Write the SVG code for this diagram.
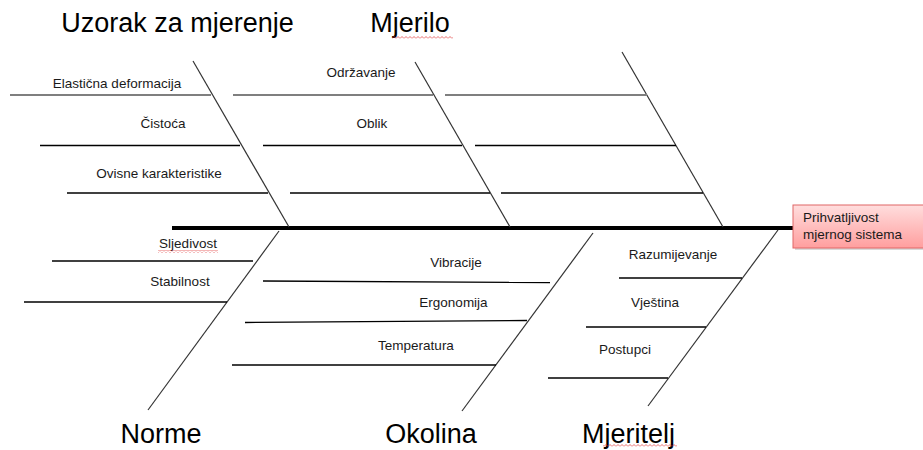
<svg xmlns="http://www.w3.org/2000/svg" width="923" height="450" viewBox="0 0 923 450">
<style>
  .title { font-family: "Liberation Sans", Arial, sans-serif; font-size: 27px; fill: #000; text-anchor: middle; }
  .lbl { font-family: "Liberation Sans", Arial, sans-serif; font-size: 13.5px; fill: #1a1a1a; text-anchor: middle; }
  .box { font-family: "Liberation Sans", Arial, sans-serif; font-size: 13.5px; fill: #1a1a1a; }
  .diag { stroke: #333; stroke-width: 1.2; fill: none; }
  .rib { stroke: #000; stroke-width: 1.3; fill: none; }
  .ribg { stroke: #7f7f7f; stroke-width: 1.8; fill: none; }
  .spine { stroke: #000; stroke-width: 4; fill: none; }
</style>
<defs>
  <linearGradient id="pink" x1="0" y1="0" x2="0" y2="1">
    <stop offset="0" stop-color="#ffdede"/>
    <stop offset="1" stop-color="#ff9e9e"/>
  </linearGradient>
  <pattern id="squig" width="4" height="3" patternUnits="userSpaceOnUse">
    <path d="M0 2.5 L2 0.5 L4 2.5" stroke="#e03030" stroke-width="0.7" fill="none"/>
  </pattern>
</defs>
<rect width="923" height="450" fill="#fff"/>

<g id="connectors">
  <line class="spine" x1="172" y1="228" x2="794" y2="228"/>
  <!-- upper bones -->
  <line class="diag" x1="193" y1="61" x2="289" y2="227"/>
  <line class="diag" x1="415" y1="62" x2="510" y2="227"/>
  <line class="diag" x1="622" y1="52" x2="723" y2="227"/>
  <!-- upper ribs -->
  <line class="ribg" x1="10" y1="95" x2="211" y2="95"/>
  <line class="ribg" x1="233" y1="95" x2="433" y2="95"/>
  <line class="ribg" x1="445" y1="95" x2="647" y2="95"/>
  <line class="rib" x1="40" y1="145.5" x2="240" y2="145.5"/>
  <line class="rib" x1="263" y1="145.5" x2="462" y2="145.5"/>
  <line class="rib" x1="475" y1="145.5" x2="676" y2="145.5"/>
  <line class="rib" x1="67" y1="193" x2="268" y2="193"/>
  <line class="rib" x1="290" y1="193" x2="490" y2="193"/>
  <line class="rib" x1="501" y1="193" x2="703" y2="193"/>
  <!-- lower bones -->
  <line class="diag" x1="279" y1="231" x2="148" y2="410"/>
  <line class="diag" x1="593" y1="233" x2="462" y2="411"/>
  <line class="diag" x1="778" y1="230" x2="648" y2="406"/>
  <!-- lower ribs -->
  <line class="rib" x1="52" y1="261" x2="253" y2="261"/>
  <line class="rib" x1="24" y1="302" x2="227" y2="302"/>
  <line class="rib" x1="263" y1="281" x2="550" y2="282.5"/>
  <line class="rib" x1="245" y1="322.5" x2="527" y2="320.5"/>
  <line class="rib" x1="232" y1="365" x2="496" y2="365"/>
  <line class="rib" x1="619" y1="278" x2="742" y2="278"/>
  <line class="rib" x1="586" y1="327" x2="706" y2="327"/>
  <line class="rib" x1="548" y1="378" x2="668" y2="378"/>
</g>

<g id="node-uzorak">
  <text class="title" x="177.5" y="32">Uzorak za mjerenje</text>
  <text class="lbl" x="117" y="88">Elastična deformacija</text>
  <text class="lbl" x="163" y="128">Čistoća</text>
  <text class="lbl" x="159" y="178">Ovisne karakteristike</text>
</g>

<g id="node-mjerilo">
  <text class="title" x="410" y="32">Mjerilo</text>
  <rect x="392" y="36" width="61" height="3" fill="url(#squig)"/>
  <text class="lbl" x="361" y="77">Održavanje</text>
  <text class="lbl" x="372" y="128">Oblik</text>
</g>

<g id="node-norme">
  <text class="title" x="161" y="443">Norme</text>
  <text class="lbl" x="188" y="248">Sljedivost</text>
  <rect x="158" y="250" width="60" height="3" fill="url(#squig)"/>
  <text class="lbl" x="180" y="286">Stabilnost</text>
</g>

<g id="node-okolina">
  <text class="title" x="431" y="443">Okolina</text>
  <text class="lbl" x="456" y="267">Vibracije</text>
  <text class="lbl" x="453.5" y="307">Ergonomija</text>
  <text class="lbl" x="416" y="350">Temperatura</text>
</g>

<g id="node-mjeritelj">
  <text class="title" x="628.5" y="443">Mjeritelj</text>
  <rect x="603" y="444" width="74" height="3" fill="url(#squig)"/>
  <text class="lbl" x="673" y="259">Razumijevanje</text>
  <text class="lbl" x="655" y="307">Vještina</text>
  <text class="lbl" x="625" y="354">Postupci</text>
</g>

<g id="node-effect">
  <rect x="795" y="207" width="130" height="43" fill="#000" opacity="0.15"/>
  <rect x="793" y="205" width="132" height="43" fill="url(#pink)" stroke="#e06666" stroke-width="1"/>
  <text class="box" x="803" y="221.5">Prihvatljivost</text>
  <text class="box" x="803" y="238.5">mjernog sistema</text>
</g>
</svg>
